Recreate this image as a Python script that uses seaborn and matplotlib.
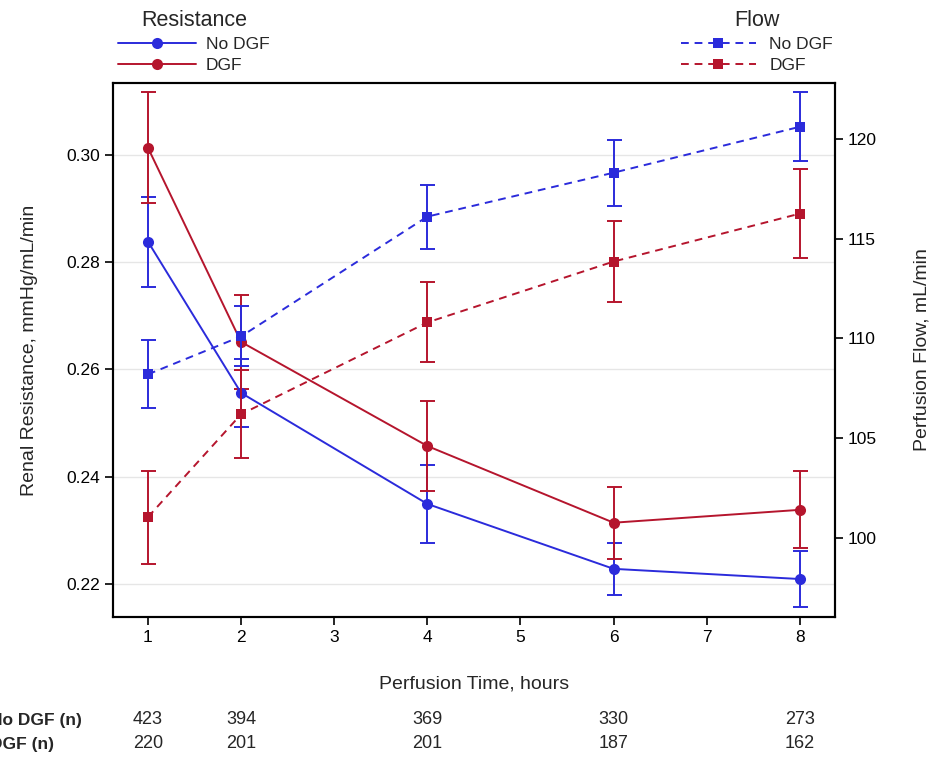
import numpy as np
import pandas as pd
import matplotlib
matplotlib.use("Agg")
import matplotlib.pyplot as plt
from matplotlib.lines import Line2D
import seaborn as sns

hours = [1, 2, 4, 6, 8]
groups = ["No DGF", "DGF"]

res_nodgf = [0.2838, 0.2556, 0.2349, 0.2228, 0.2209]
res_nodgf_err = [0.0084, 0.0063, 0.0073, 0.0049, 0.0053]
res_dgf = [0.3013, 0.2651, 0.2457, 0.2314, 0.2338]
res_dgf_err = [0.0103, 0.0088, 0.0084, 0.0067, 0.0072]

flow_nodgf = [108.2, 110.1, 116.1, 118.3, 120.6]
flow_nodgf_err = [1.70, 1.50, 1.60, 1.65, 1.73]
flow_dgf = [101.05, 106.2, 110.8, 113.85, 116.25]
flow_dgf_err = [2.33, 2.20, 2.00, 2.05, 2.23]

n_nodgf = [423, 394, 369, 330, 273]
n_dgf = [220, 201, 201, 187, 162]

x_ticks = [1, 2, 3, 4, 5, 6, 7, 8]
left_ticks = [0.22, 0.24, 0.26, 0.28, 0.30]
right_ticks = [100, 105, 110, 115, 120]

BLUE = "#2b2bdb"
RED = "#b5152d"

sns.set_theme(style="white")
plt.rcParams["font.family"] = ["Liberation Sans", "DejaVu Sans"]

fig = plt.figure(figsize=(9.38, 7.6), dpi=100)
ax = fig.add_axes([0.1205, 0.188, 0.7695, 0.703])
ax2 = ax.twinx()

res_df = pd.DataFrame({
    "hour": hours * 2,
    "value": res_nodgf + res_dgf,
    "err": res_nodgf_err + res_dgf_err,
    "group": [groups[0]] * 5 + [groups[1]] * 5,
})
flow_df = pd.DataFrame({
    "hour": hours * 2,
    "value": flow_nodgf + flow_dgf,
    "err": flow_nodgf_err + flow_dgf_err,
    "group": [groups[0]] * 5 + [groups[1]] * 5,
})
pal = {groups[0]: BLUE, groups[1]: RED}

for g in groups:
    d = res_df[res_df.group == g]
    ax.errorbar(d.hour, d.value, yerr=d.err, fmt="none", ecolor=pal[g],
                elinewidth=1.4, capsize=5.4, capthick=1.4, zorder=2)
    sns.lineplot(data=d, x="hour", y="value", color=pal[g], marker="o",
                 markersize=8, markeredgewidth=0, linewidth=1.4, ax=ax,
                 legend=False, zorder=3)
    f = flow_df[flow_df.group == g]
    ax2.errorbar(f.hour, f.value, yerr=f.err, fmt="none", ecolor=pal[g],
                 elinewidth=1.4, capsize=5.4, capthick=1.4, zorder=2)
    sns.lineplot(data=f, x="hour", y="value", color=pal[g], marker="s",
                 markersize=7, markeredgewidth=0, linewidth=1.4, ax=ax2,
                 legend=False, zorder=3)
    ax2.lines[-1].set_dashes((4, 3))

ax.set_xlim(0.625, 8.375)
ax.set_ylim(0.2138, 0.3134)
ax2.set_ylim(96.04, 122.8)
ax.set_xticks(x_ticks)
ax.set_yticks(left_ticks)
ax.set_yticklabels([f"{v:.2f}" for v in left_ticks])
ax2.set_yticks(right_ticks)
ax.grid(axis="y", color="#e6e6e6", linewidth=1.0)
ax.grid(axis="x", visible=False)
ax2.grid(False)

for a in (ax, ax2):
    for s in a.spines.values():
        s.set_color("black")
        s.set_linewidth(1.5)
    a.tick_params(direction="out", length=6, width=1.2, colors="black",
                  labelsize=12.5)
ax.tick_params(axis="both", which="both", bottom=True, left=True, right=False)
ax2.tick_params(axis="y", right=True)

ax.set_xlabel("Perfusion Time, hours", fontsize=14, labelpad=22)
ax.set_ylabel("Renal Resistance, mmHg/mL/min", fontsize=14, labelpad=20)
ax2.set_ylabel("Perfusion Flow, mL/min", fontsize=14, labelpad=26)

# Legends
res_handles = [
    Line2D([], [], color=BLUE, marker="o", markersize=8, markeredgewidth=0, linewidth=1.4),
    Line2D([], [], color=RED, marker="o", markersize=8, markeredgewidth=0, linewidth=1.4),
]
flow_handles = [
    Line2D([], [], color=BLUE, marker="s", markersize=7, markeredgewidth=0, linewidth=1.4, dashes=(4, 3)),
    Line2D([], [], color=RED, marker="s", markersize=7, markeredgewidth=0, linewidth=1.4, dashes=(4, 3)),
]
fig.legend(res_handles, groups, title="Resistance", loc="upper left",
           bbox_to_anchor=(0.113, 1.003), frameon=False, fontsize=12.5,
           title_fontsize=15.5, handlelength=4.5, handletextpad=0.55,
           labelspacing=0.35, borderpad=0.2)
fig.legend(flow_handles, groups, title="Flow", loc="upper left",
           bbox_to_anchor=(0.713, 1.003), frameon=False, fontsize=12.5,
           title_fontsize=15.5, handlelength=4.3, handletextpad=0.8,
           labelspacing=0.35, borderpad=0.2)

# n table under the axis
row_y = [(760 - 720) / 760, (760 - 744) / 760]
fig.text(-0.011, row_y[0], "No DGF (n)", fontsize=12.5, fontweight="bold",
         ha="left", va="center")
fig.text(-0.011, row_y[1], "DGF (n)", fontsize=12.5, fontweight="bold",
         ha="left", va="center")
trans = matplotlib.transforms.blended_transform_factory(ax.transData, fig.transFigure)
for h, a, b in zip(hours, n_nodgf, n_dgf):
    ax.text(h, row_y[0], str(a), transform=trans, ha="center", va="center",
            fontsize=13, family=["Liberation Sans Narrow", "Liberation Sans", "DejaVu Sans"])
    ax.text(h, row_y[1], str(b), transform=trans, ha="center", va="center",
            fontsize=13, family=["Liberation Sans Narrow", "Liberation Sans", "DejaVu Sans"])

fig.savefig("out.png", dpi=100)
